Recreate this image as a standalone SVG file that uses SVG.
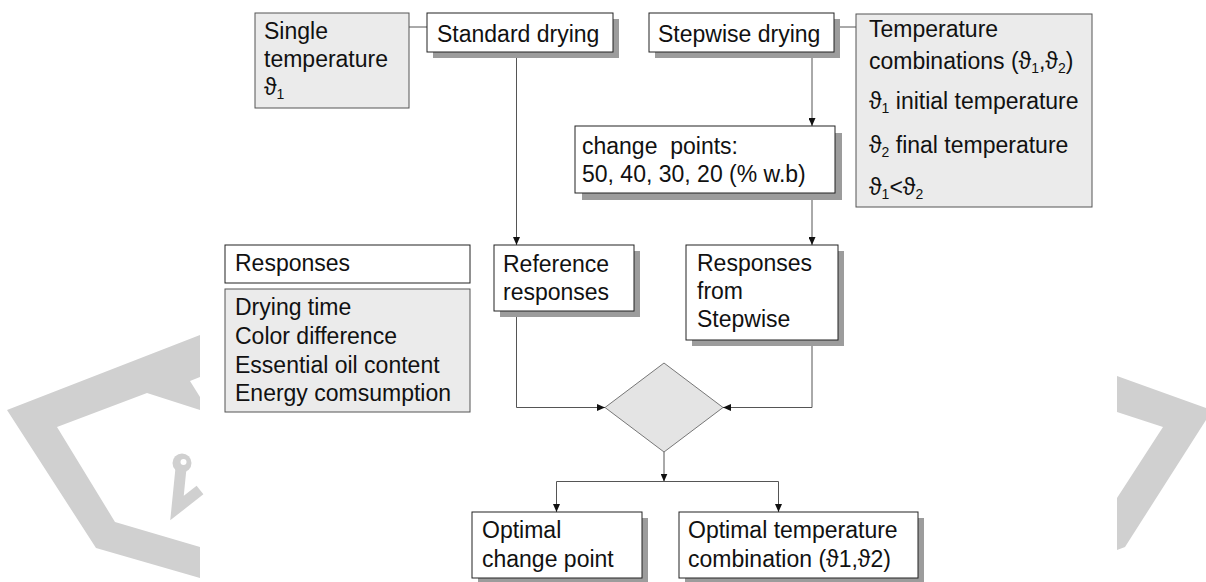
<svg xmlns="http://www.w3.org/2000/svg" width="1206" height="582" viewBox="0 0 1206 582">
<style>
text{font-family:"Liberation Sans",Arial,"DejaVu Sans",sans-serif;font-size:23px;fill:#111}
.sub{font-size:14px}
.wb{fill:#fff;stroke:#222;stroke-width:1}
.gb{fill:#ebebeb;stroke:#555;stroke-width:1}
.sh{fill:#9c9c9c}
.wm{fill:#d0d0d0}
.ln{fill:none;stroke:#555;stroke-width:1}
.ar{fill:none;stroke:#555;stroke-width:1;marker-end:url(#ah)}
</style>
<defs>
<marker id="ah" markerWidth="8" markerHeight="7" refX="8" refY="3.5" orient="auto" markerUnits="userSpaceOnUse">
<path d="M0,0 L8,3.5 L0,7 z" fill="#111"/>
</marker>
</defs>
<rect width="1206" height="582" fill="#fff"/>
<g id="watermark">
<polygon class="wm" points="200,335 7,410 96,548 200,578 200,547 115,522 57,427 147,393 200,410"/>
<polygon fill="#fff" points="190,381 200,377 200,397"/>
<path d="M181,468 L177,508 L200,490" fill="none" stroke="#d0d0d0" stroke-width="11" stroke-linejoin="miter"/>
<circle class="wm" cx="182" cy="463" r="9.5"/>
<circle fill="#fff" cx="183.5" cy="462" r="3"/>
<polygon class="wm" points="1117,376 1206,408 1206,420 1125,547 1117,550 1117,498 1163,427 1117,412"/>
</g>
<g id="connectors">
<line class="ln" x1="409" y1="27" x2="427" y2="27"/>
<line class="ln" x1="834" y1="27" x2="856" y2="27"/>
<line class="ar" x1="516.5" y1="52" x2="516.5" y2="245"/>
<line class="ar" x1="812" y1="52" x2="812" y2="126"/>
<line class="ar" x1="812" y1="193" x2="812" y2="245"/>
<polyline class="ar" points="516.5,311 516.5,407.5 605,407.5"/>
<polyline class="ar" points="812,340 812,407.5 723,407.5"/>
<line class="ar" x1="664" y1="452" x2="664" y2="481.5"/>
<line class="ln" x1="556.5" y1="481.5" x2="778.5" y2="481.5"/>
<line class="ar" x1="556.5" y1="481.5" x2="556.5" y2="512"/>
<line class="ar" x1="778.5" y1="481.5" x2="778.5" y2="512"/>
</g>
<g id="n-single">
<rect class="gb" x="255" y="13" width="154" height="95"/>
<text x="264" y="39">Single</text>
<text x="264" y="67">temperature</text>
<text x="264" y="95">ϑ<tspan class="sub" dy="4">1</tspan></text>
</g>
<g id="n-standard">
<rect class="sh" x="433" y="19" width="186" height="39"/>
<rect class="wb" x="427" y="13" width="186" height="39"/>
<text x="437" y="42">Standard drying</text>
</g>
<g id="n-stepwise">
<rect class="sh" x="655" y="19" width="185" height="39"/>
<rect class="wb" x="649" y="13" width="185" height="39"/>
<text x="658" y="42">Stepwise drying</text>
</g>
<g id="n-tempcombo">
<rect class="gb" x="856" y="14" width="236" height="193"/>
<text x="869" y="37">Temperature</text>
<text x="869" y="69">combinations (ϑ<tspan class="sub" dy="4">1</tspan><tspan dy="-4">,ϑ</tspan><tspan class="sub" dy="4">2</tspan><tspan dy="-4">)</tspan></text>
<text x="869" y="109">ϑ<tspan class="sub" dy="4">1</tspan><tspan dy="-4"> initial temperature</tspan></text>
<text x="869" y="153">ϑ<tspan class="sub" dy="4">2</tspan><tspan dy="-4"> final temperature</tspan></text>
<text x="869" y="195">ϑ<tspan class="sub" dy="4">1</tspan><tspan dy="-4">&lt;ϑ</tspan><tspan class="sub" dy="4">2</tspan></text>
</g>
<g id="n-changepoints">
<rect class="sh" x="582" y="133" width="260" height="67"/>
<rect class="wb" x="575" y="126" width="260" height="67"/>
<text x="582" y="154" style="white-space:pre">change  points:</text>
<text x="582" y="182">50, 40, 30, 20 (% w.b)</text>
</g>
<g id="n-responses-label">
<rect class="wb" x="225" y="245" width="245" height="38"/>
<text x="235" y="271">Responses</text>
</g>
<g id="n-responses-list">
<rect class="gb" x="225" y="289" width="245" height="123"/>
<text x="235" y="315">Drying time</text>
<text x="235" y="343.5">Color difference</text>
<text x="235" y="372.5">Essential oil content</text>
<text x="235" y="401">Energy comsumption</text>
</g>
<g id="n-reference">
<rect class="sh" x="500" y="251" width="140" height="66"/>
<rect class="wb" x="494" y="245" width="140" height="66"/>
<text x="503" y="272">Reference</text>
<text x="503" y="300">responses</text>
</g>
<g id="n-stepresp">
<rect class="sh" x="692" y="251" width="152" height="95"/>
<rect class="wb" x="686" y="245" width="152" height="95"/>
<text x="697" y="271">Responses</text>
<text x="697" y="299">from</text>
<text x="697" y="327">Stepwise</text>
</g>
<g id="n-decision">
<polygon points="664,363 723,407.5 664,452 605,407.5" fill="#e4e4e4" stroke="#777" stroke-width="1"/>
</g>
<g id="n-optcp">
<rect class="sh" x="478" y="518" width="170" height="66"/>
<rect class="wb" x="472" y="512" width="170" height="66"/>
<text x="482" y="538">Optimal</text>
<text x="482" y="567">change point</text>
</g>
<g id="n-opttemp">
<rect class="sh" x="685" y="518" width="239" height="66"/>
<rect class="wb" x="679" y="512" width="239" height="66"/>
<text x="688" y="538">Optimal temperature</text>
<text x="688" y="567">combination (ϑ1,ϑ2)</text>
</g>
</svg>
